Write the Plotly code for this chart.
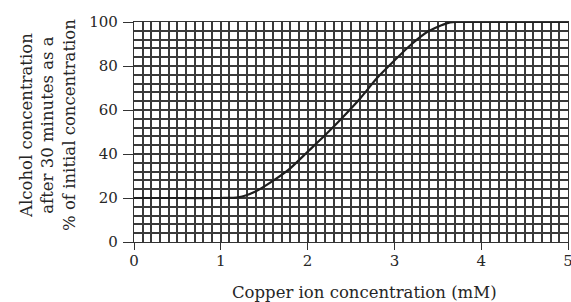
import plotly.graph_objects as go

copper_mM = [0, 0.5, 1.0, 1.2, 1.4, 1.6, 1.8, 2.0, 2.2, 2.4, 2.6, 2.8, 3.0, 3.2, 3.4, 3.6, 3.7, 4.0, 4.5, 5.0]
alcohol_pct = [20, 20, 20, 20.3, 23, 27.8, 33.5, 41, 48.5, 56.5, 65, 74.5, 82.5, 90, 96, 99.4, 100, 100, 100, 100]

x_ticks = [0, 1, 2, 3, 4, 5]
y_ticks = [0, 20, 40, 60, 80, 100]

FONT = "DejaVu Serif"
GRID = "#3a3a3a"
TXT = "#262626"

fig = go.Figure()
fig.add_trace(go.Scatter(
    x=copper_mM, y=alcohol_pct, mode="lines",
    line=dict(color="#1e1e1e", width=2.2, shape="spline", smoothing=0.6),
    showlegend=False, hoverinfo="skip",
))

fig.update_layout(
    width=571, height=302,
    margin=dict(l=134, r=3, t=22, b=60, autoexpand=False),
    paper_bgcolor="white", plot_bgcolor="white",
    font=dict(family=FONT, size=15, color=TXT),
)

fig.update_xaxes(
    range=[0, 5], tickvals=x_ticks, ticktext=[str(v) for v in x_ticks],
    ticks="outside", ticklen=7, tickcolor="#333333", tickwidth=1.3,
    showgrid=True, gridcolor=GRID, gridwidth=1.5,
    minor=dict(dtick=0.1, tick0=0, showgrid=True, gridcolor=GRID, gridwidth=1.5),
    zeroline=False, showline=True, linecolor="#333333", linewidth=1.3, mirror=True,
    tickfont=dict(family=FONT, size=15, color=TXT),
    ticklabeloverflow="allow", ticklabelstandoff=-2, automargin=False,
)

fig.update_yaxes(
    range=[0, 100], tickvals=y_ticks, ticktext=[str(v) for v in y_ticks],
    ticks="outside", ticklen=10, tickcolor="#333333", tickwidth=1.3,
    showgrid=True, gridcolor=GRID, gridwidth=1.5,
    minor=dict(dtick=4, tick0=0, showgrid=True, gridcolor=GRID, gridwidth=1.5),
    zeroline=False, showline=True, linecolor="#333333", linewidth=1.3, mirror=True,
    tickfont=dict(family=FONT, size=15, color=TXT),
    ticklabelstandoff=2, automargin=False,
)

fig.add_annotation(
    text="Copper ion concentration (mM)",
    xref="paper", yref="paper", x=0.532, y=0, xanchor="center", yanchor="middle",
    yshift=-50, showarrow=False,
    font=dict(family=FONT, size=16.5, color=TXT),
)

fig.add_annotation(
    text="Alcohol concentration<br>after 30 minutes as a<br>% of initial concentration",
    xref="paper", yref="paper", x=0, y=0.5, xanchor="center", yanchor="middle",
    xshift=-86, yshift=7, textangle=-90, showarrow=False,
    font=dict(family=FONT, size=16.5, color=TXT), align="center",
)

fig.write_html("out.html", post_script="document.body.style.margin='0';",
               config={"displayModeBar": False})
